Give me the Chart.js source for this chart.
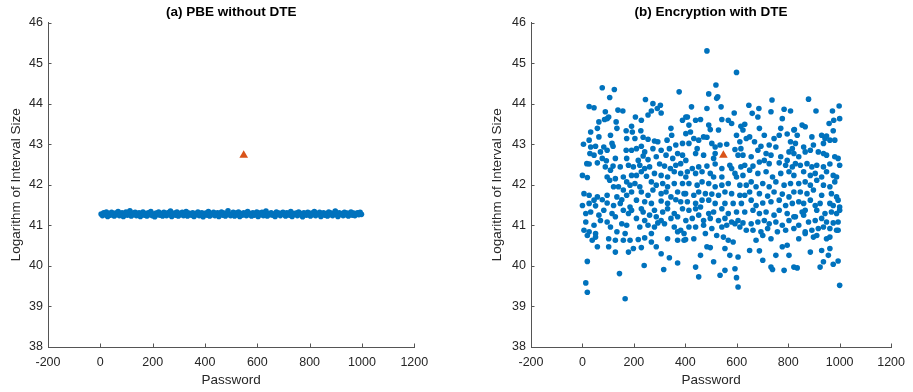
<!DOCTYPE html>
<html>
<head>
<meta charset="utf-8">
<script src="https://cdn.jsdelivr.net/npm/chart.js@4.4.0/dist/chart.umd.min.js"></script>
<style>
  html, body { margin: 0; padding: 0; background: #fff; }
  body { width: 913px; height: 392px; position: relative; overflow: hidden; }
  .panel { position: absolute; top: 0; height: 392px; }
  #panelA { left: 0; width: 440px; }
  #panelB { left: 483px; width: 430px; }
</style>
</head>
<body>
<div class="panel" id="panelA"><canvas id="chartA"></canvas></div>
<div class="panel" id="panelB"><canvas id="chartB"></canvas></div>
<script>
// ===== DATA =====
const xTicks = [-200, 0, 200, 400, 600, 800, 1000, 1200];
const yTicks = [38, 39, 40, 41, 42, 43, 44, 45, 46];

// the password that sits above the rest (orange triangle, same in both panels)
const targetPoint = [548, 42.73];

// (a) PBE without DTE: log interval size sampled every 5th password (3, 8, ... 998)
const pbeStep = 5;
const pbeValues = [
  41.28,41.24,41.31,41.26,41.33,41.22,41.29,41.25,41.32,41.27,
  41.23,41.30,41.26,41.34,41.24,41.28,41.31,41.22,41.27,41.33,
  41.25,41.29,41.36,41.23,41.30,41.26,41.32,41.24,41.28,41.31,
  41.22,41.27,41.33,41.25,41.29,41.23,41.31,41.26,41.34,41.24,
  41.28,41.21,41.30,41.26,41.33,41.25,41.29,41.23,41.32,41.27,
  41.24,41.31,41.26,41.35,41.22,41.28,41.30,41.25,41.33,41.23,
  41.29,41.26,41.32,41.24,41.28,41.34,41.23,41.30,41.27,41.25,
  41.31,41.22,41.29,41.26,41.33,41.24,41.28,41.31,41.21,41.27,
  41.30,41.25,41.34,41.23,41.29,41.26,41.32,41.24,41.28,41.31,
  41.22,41.27,41.33,41.25,41.30,41.23,41.29,41.36,41.26,41.24,
  41.28,41.32,41.23,41.30,41.26,41.33,41.22,41.29,41.25,41.31,
  41.27,41.24,41.34,41.26,41.29,41.23,41.31,41.25,41.28,41.33,
  41.22,41.30,41.26,41.32,41.24,41.28,41.35,41.23,41.29,41.26,
  41.31,41.25,41.28,41.22,41.33,41.27,41.30,41.24,41.29,41.32,
  41.26,41.23,41.31,41.28,41.25,41.34,41.22,41.29,41.27,41.30,
  41.24,41.33,41.26,41.29,41.21,41.31,41.27,41.25,41.32,41.28,
  41.23,41.30,41.26,41.34,41.24,41.29,41.27,41.32,41.22,41.28,
  41.31,41.25,41.29,41.23,41.33,41.26,41.30,41.24,41.28,41.35,
  41.26,41.22,41.31,41.27,41.29,41.24,41.32,41.26,41.30,41.23,
  41.28,41.33,41.25,41.30,41.24,41.29,41.31,41.26,41.32,41.27
];

// (b) Encryption with DTE: [password, log interval size]
const dtePoints = [
  [77,44.39],[124,44.35],[106,44.15],
  [26,43.93],[45,43.90],[89,43.80],[138,43.84],[157,43.82],
  [64,43.55],[96,43.63],[86,43.61],[131,43.55],[102,43.67],
  [32,43.30],[58,43.39],[134,43.39],[170,43.33],[191,43.44],
  [4,43.00],[26,43.10],[64,43.18],[109,43.22],[172,43.14],[115,43.02],
  [32,42.93],[51,42.95],[83,42.93],[119,42.95],[70,42.81],
  [29,42.77],[45,42.73],[96,42.85],[170,42.85],[191,42.85],
  [17,42.52],[26,42.51],[58,42.54],[77,42.65],[93,42.59],[128,42.65],[172,42.65],
  [0,42.23],[19,42.18],[89,42.44],[109,42.36],[119,42.46],[147,42.44],[179,42.48],
  [96,42.19],[106,42.11],[128,42.15],[159,42.19],[191,42.23],[172,42.07],
  [121,41.95],[140,41.95],[185,41.99],[159,41.87],[191,41.82],
  [6,41.78],[26,41.74],[58,41.70],[77,41.63],[45,41.62],[96,41.74],[134,41.70],[153,41.63],[172,41.74],
  [0,41.49],[26,41.54],[51,41.48],[96,41.55],[121,41.49],[147,41.54],[185,41.45],[191,41.37],
  [13,41.29],[32,41.33],[64,41.25],[83,41.37],[115,41.29],[159,41.37],[179,41.29],
  [13,41.08],[45,41.00],[70,41.12],[96,41.08],[128,41.21],[153,41.04],[172,41.00],
  [6,40.88],[26,40.84],[51,40.80],[109,40.96],[134,40.84],[166,40.80],
  [19,40.75],[38,40.63],[51,40.71],[102,40.67],[128,40.63],[159,40.63],[185,40.63],
  [58,40.47],[102,40.47],[128,40.34],[179,40.34],[198,40.43],
  [19,40.11],[144,39.81],[13,39.58],[19,39.35],[166,39.19],

  [376,44.29],[245,44.10],[274,44.00],[303,43.96],[268,43.82],[291,43.88],[306,43.77],[206,43.67],[229,43.59],[255,43.72],
  [389,43.59],[402,43.67],[344,43.39],[227,43.33],[194,43.30],[347,43.22],[402,43.26],
  [204,43.14],[236,43.17],[255,43.12],[280,43.08],[293,43.06],[329,43.10],[363,42.98],[389,43.02],
  [210,42.89],[229,42.95],[242,42.81],[274,42.89],[306,42.85],[338,42.89],[370,42.77],[389,42.73],
  [217,42.60],[236,42.71],[255,42.62],[287,42.69],[325,42.73],[351,42.65],[402,42.60],
  [198,42.44],[223,42.48],[242,42.40],[261,42.44],[300,42.51],[319,42.46],[342,42.40],[363,42.48],[382,42.52],
  [210,42.23],[229,42.32],[249,42.21],[280,42.28],[306,42.23],[331,42.19],[357,42.32],[382,42.28],[402,42.19],
  [204,42.03],[223,41.95],[268,42.07],[287,41.99],[312,42.03],[331,41.95],[357,42.03],[389,42.03],
  [229,41.82],[255,41.74],[274,41.87],[306,41.78],[325,41.82],[344,41.70],[370,41.82],[395,41.78],
  [210,41.62],[242,41.58],[268,41.54],[306,41.60],[331,41.54],[363,41.63],[382,41.58],
  [229,41.41],[236,41.33],[280,41.37],[312,41.33],[331,41.41],[357,41.29],[389,41.41],
  [210,41.17],[242,41.12],[261,41.25],[287,41.21],[306,41.12],[344,41.17],[370,41.21],[402,41.12],
  [223,40.96],[255,41.00],[280,40.96],[319,41.04],[357,40.96],[382,40.88],[293,41.06],
  [268,40.80],[370,40.84],[395,40.80],
  [217,40.65],[242,40.69],[268,40.59],[331,40.67],[370,40.63],[395,40.63],
  [229,40.45],[287,40.47],[306,40.30],[338,40.20],[370,40.07],[240,40.01],[316,39.91],

  [484,45.30],[599,44.77],[519,44.46],[491,44.24],[522,44.13],[526,44.17],
  [484,43.88],[539,43.92],[590,43.77],[424,43.92],[408,43.67],[440,43.59],[459,43.61],[542,43.61],[567,43.59],
  [414,43.47],[491,43.47],[580,43.51],[616,43.44],[420,43.30],[497,43.36],[529,43.35],
  [433,43.14],[452,43.10],[471,43.18],[484,43.17],[599,43.22],[612,43.06],
  [414,43.02],[446,42.89],[503,43.02],[516,42.93],[535,42.98],[561,43.00],[593,42.87],[616,42.89],
  [440,42.77],[471,42.73],[516,42.77],[510,42.65],[605,42.73],
  [427,42.40],[452,42.44],[484,42.46],[516,42.51],[542,42.40],[573,42.48],[580,42.40],[616,42.44],
  [408,42.32],[440,42.28],[465,42.32],[497,42.28],[510,42.19],[542,42.19],[593,42.28],[599,42.19],
  [414,42.03],[446,41.99],[465,42.07],[491,42.03],[516,41.95],[542,41.99],[567,42.03],[612,41.99],
  [401,41.78],[433,41.74],[452,41.82],[478,41.78],[503,41.77],[529,41.74],[554,41.82],[580,41.78],[612,41.74],
  [408,41.58],[440,41.54],[465,41.62],[491,41.62],[516,41.54],[554,41.54],[586,41.54],
  [414,41.37],[440,41.41],[459,41.45],[491,41.29],[510,41.33],[542,41.41],[567,41.29],[599,41.33],
  [427,41.17],[452,41.25],[471,41.12],[497,41.17],[529,41.12],[554,41.17],[580,41.08],[605,41.12],
  [414,40.96],[440,40.96],[471,41.00],[503,40.92],[542,40.96],[561,41.00],[593,41.04],[612,40.96],
  [401,40.65],[433,40.67],[478,40.80],[522,40.75],[548,40.71],[567,40.63],[586,40.59],
  [484,40.47],[497,40.45],[554,40.43],[573,40.26],[605,40.22],[459,40.26],
  [440,39.97],[510,40.10],[554,39.89],[593,39.93],[452,39.73],[535,39.77],[599,39.71],[605,39.48],

  [737,44.09],[647,43.96],[686,43.88],[660,43.76],[682,43.67],[733,43.80],[784,43.86],[809,43.82],[777,43.63],
  [631,43.49],[688,43.39],[624,43.35],[771,43.39],[822,43.35],[650,43.18],[707,43.22],[745,43.14],[765,43.22],[796,43.25],
  [637,43.14],[669,43.06],[694,42.95],[726,42.98],[752,42.93],[809,43.06],[816,42.89],
  [624,42.73],[656,42.69],[682,42.85],[714,42.77],[733,42.73],[771,42.69],[803,42.81],[822,42.77],
  [631,42.48],[663,42.46],[688,42.56],[707,42.60],[726,42.52],[765,42.54],[790,42.48],[816,42.44],[796,42.60],
  [624,42.23],[650,42.36],[682,42.28],[714,42.32],[739,42.19],[771,42.28],[803,42.32],[822,42.23],
  [637,41.99],[656,42.07],[675,41.95],[701,42.03],[726,41.95],[752,42.07],[784,41.99],[809,42.03],
  [631,41.74],[650,41.82],[688,41.78],[720,41.72],[745,41.82],[777,41.77],[803,41.70],[822,41.82],
  [618,41.54],[656,41.62],[675,41.49],[701,41.55],[733,41.58],[765,41.62],[790,41.49],[816,41.54],
  [631,41.33],[663,41.37],[688,41.29],[714,41.33],[745,41.25],[765,41.37],[796,41.29],[822,41.21],
  [624,41.06],[656,41.04],[682,41.08],[707,41.12],[726,41.04],[752,41.08],[777,41.00],[803,41.12],
  [637,40.88],[663,40.88],[694,40.84],[720,40.92],[758,40.84],[790,40.88],[822,40.92],
  [675,40.63],[701,40.75],[733,40.67],[777,40.47],[796,40.51],[803,40.26],[650,40.38],[688,40.37],
  [752,40.26],[701,40.14],[733,39.97],[739,39.91],[784,39.89],[822,39.97],

  [879,44.11],[908,43.82],[972,43.82],[998,43.94],[1000,43.63],[977,43.59],[959,43.51],[854,43.47],[866,43.43],[824,43.36],[975,43.33],
  [835,43.22],[892,43.18],[930,43.22],[943,43.14],[949,43.20],[962,43.10],[981,43.10],[828,43.02],[860,42.93],[898,42.98],[937,43.02],
  [866,42.81],[886,42.85],[917,42.81],[937,42.77],[949,42.73],[981,42.69],[994,42.65],[841,42.69],
  [828,42.52],[847,42.48],[873,42.52],[892,42.44],[911,42.48],[937,42.44],[962,42.51],[1000,42.48],
  [860,42.32],[886,42.23],[905,42.28],[930,42.19],[949,42.32],[975,42.23],[988,42.19],
  [841,42.03],[866,42.07],[886,41.99],[911,42.11],[937,41.99],[962,41.95],[981,42.07],
  [847,41.82],[873,41.78],[898,41.87],[930,41.74],[968,41.78],[988,41.70],[994,41.62],
  [841,41.58],[860,41.54],[886,41.62],[905,41.49],[924,41.54],[962,41.54],[975,41.49],[1000,41.45],
  [854,41.33],[866,41.37],[911,41.37],[943,41.29],[968,41.33],[988,41.29],[1000,41.37],
  [828,41.21],[860,41.25],[879,41.08],[905,41.12],[930,41.17],[949,41.08],[975,41.06],[994,41.08],
  [841,41.00],[866,40.84],[892,40.88],[917,40.92],[937,40.96],[962,40.92],[988,40.88],
  [841,40.67],[866,40.80],[898,40.71],[911,40.75],[949,40.67],[962,40.71],[994,40.88],
  [886,40.34],[930,40.38],[962,40.43],[956,40.26],[994,40.12],[835,39.95],[937,40.10],[924,39.97],[975,40.04],[1000,39.52]
];

// ===== STYLE =====
const FONT = 'Arial, "Liberation Sans", Helvetica, sans-serif';
const BLUE = '#0072BD';
const ORANGE = '#D95319';
const AXIS = '#555555';
const TEXT = '#262626';

// MATLAB style tick marks that point into the plot
const inwardTicks = {
  id: 'inwardTicks',
  afterDraw(chart) {
    const ctx = chart.ctx;
    const area = chart.chartArea;
    const xs = chart.scales.x;
    const ys = chart.scales.y;
    ctx.save();
    ctx.strokeStyle = AXIS;
    ctx.lineWidth = 1;
    ctx.beginPath();
    xs.ticks.forEach(t => {
      const px = Math.round(xs.getPixelForValue(t.value)) + 0.5;
      ctx.moveTo(px, area.bottom);
      ctx.lineTo(px, area.bottom - 3.5);
    });
    ys.ticks.forEach(t => {
      const py = Math.round(ys.getPixelForValue(t.value)) + 0.5;
      ctx.moveTo(area.left, py);
      ctx.lineTo(area.left + 3.5, py);
    });
    ctx.stroke();
    ctx.restore();
  }
};

function makeChart(canvasId, title, points, padRight, yTitlePad) {
  const ctx = document.getElementById(canvasId).getContext('2d');
  return new Chart(ctx, {
    type: 'scatter',
    data: {
      datasets: [
        {
          data: [{ x: targetPoint[0], y: targetPoint[1] }],
          pointStyle: 'triangle',
          pointRadius: 5,
          backgroundColor: ORANGE,
          borderWidth: 0,
          order: 0
        },
        {
          data: points,
          pointStyle: 'circle',
          pointRadius: 2.8,
          backgroundColor: BLUE,
          borderWidth: 0,
          order: 1
        }
      ]
    },
    options: {
      responsive: true,
      maintainAspectRatio: false,
      animation: false,
      events: [],
      layout: { padding: { left: 0, right: padRight, top: 0, bottom: 0 } },
      plugins: {
        legend: { display: false },
        tooltip: { enabled: false },
        title: {
          display: true,
          text: title,
          fullSize: false,
          color: '#000',
          font: { family: FONT, size: 13.5, weight: 'bold' },
          padding: { top: 4, bottom: 2.3 }
        }
      },
      scales: {
        x: {
          type: 'linear',
          min: xTicks[0],
          max: xTicks[xTicks.length - 1],
          afterBuildTicks: s => { s.ticks = xTicks.map(v => ({ value: v })); },
          afterFit: s => { s.height = 45; },
          grid: { display: false, drawTicks: false },
          border: { display: true, color: AXIS, width: 1 },
          ticks: {
            padding: 8,
            color: TEXT,
            font: { family: FONT, size: 12.5 },
            maxRotation: 0,
            callback: v => String(v)
          },
          title: {
            display: true,
            text: 'Password',
            color: TEXT,
            font: { family: FONT, size: 13.5 },
            padding: { top: 0, bottom: 4 }
          }
        },
        y: {
          type: 'linear',
          min: yTicks[0],
          max: yTicks[yTicks.length - 1],
          afterBuildTicks: s => { s.ticks = yTicks.map(v => ({ value: v })); },
          afterFit: s => { s.width = 48; },
          grid: { display: false, drawTicks: false },
          border: { display: true, color: AXIS, width: 1 },
          ticks: {
            padding: 5,
            color: TEXT,
            font: { family: FONT, size: 12.5 },
            callback: v => String(v)
          },
          title: {
            display: true,
            text: 'Logarithm of Interval Size',
            color: TEXT,
            font: { family: FONT, size: 13.5 },
            padding: { top: yTitlePad, bottom: 0 }
          }
        }
      }
    },
    plugins: [inwardTicks]
  });
}

const pbePoints = pbeValues.map((v, i) => ({ x: 3 + i * pbeStep, y: v }));
const dteData = dtePoints.map(p => ({ x: p[0], y: p[1] }));

makeChart('chartA', '(a) PBE without DTE', pbePoints, 25.7, 8);
makeChart('chartB', '(b) Encryption with DTE', dteData, 15.7, 6);
</script>
</body>
</html>
